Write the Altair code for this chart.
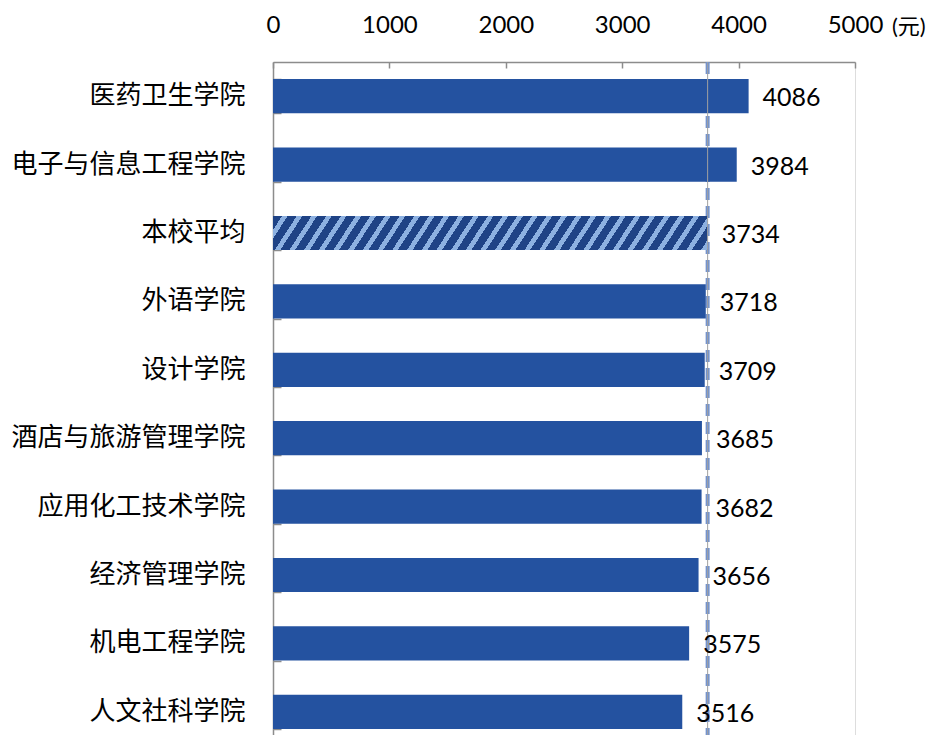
import altair as alt
import pandas as pd

categories = ["医药卫生学院", "电子与信息工程学院", "本校平均", "外语学院", "设计学院",
              "酒店与旅游管理学院", "应用化工技术学院", "经济管理学院", "机电工程学院", "人文社科学院"]
values = [4086, 3984, 3734, 3718, 3709, 3685, 3682, 3656, 3575, 3516]
average_label = "本校平均"
average_value = 3734
x_ticks = [0, 1000, 2000, 3000, 4000, 5000]
x_max = 5000
unit_label = "(元)"

W = 582
H_VIS = 673
STEP = 68.4
H_FULL = STEP * len(categories)

BAR = "#2452A0"
HATCH_DARK = "#1F4386"
HATCH_LIGHT = "#8DB1E1"
AXIS_GREY = "#8C8C8C"
FONT_NUM = "Lato, 'Noto Sans CJK SC', sans-serif"
FONT_CJK = "'Noto Sans CJK SC', sans-serif"

df = pd.DataFrame({"cat": categories, "value": values})
df["is_avg"] = df["cat"] == average_label

x_scale = alt.Scale(domain=[0, x_max], range=[0, W], nice=False)
y_scale = alt.Scale(domain=categories, range=[0, H_FULL], paddingInner=0.5, paddingOuter=0.25)

# diagonal hatch gradient for the average bar
bw = average_value / x_max * W
bh = STEP * 0.5
s = 0.65          # slant
P = 14.7          # stripe period, px
fd = 0.62         # dark fraction
b = s * bh / bw
c = 1.06
L = bw * c * (1 + b * b)
stops = []
k = 0
while k * P / L < 1:
    st = k * P / L
    m = min(st + fd * P / L, 1.0)
    e = min(st + P / L, 1.0)
    stops += [alt.GradientStop(offset=st, color=HATCH_DARK),
              alt.GradientStop(offset=m, color=HATCH_DARK),
              alt.GradientStop(offset=m, color=HATCH_LIGHT),
              alt.GradientStop(offset=e, color=HATCH_LIGHT)]
    k += 1
hatch = alt.LinearGradient(gradient="linear", stops=stops, x1=0, y1=0, x2=c, y2=c * b)

base = alt.Chart(df)

avg_df = pd.DataFrame({"v": [average_value]})
dashed = alt.Chart(avg_df).mark_rule(strokeDash=[12, 6], strokeWidth=4, color="#7393CE").encode(
    x=alt.X("v:Q", scale=x_scale, axis=None),
    y=alt.value(0), y2=alt.value(H_VIS))

bars = base.transform_filter("!datum.is_avg").mark_bar(color=BAR).encode(
    x=alt.X("value:Q", scale=x_scale,
            axis=alt.Axis(orient="top", values=x_ticks, format="d", title=None, grid=False,
                          ticks=False, tickSize=0, labelFont=FONT_NUM, labelFontSize=24,
                          labelColor="#000000", labelPadding=25, domainColor=AXIS_GREY,
                          domainWidth=1.5, labelFlush=False)),
    y=alt.Y("cat:N", scale=y_scale, sort=categories,
            axis=alt.Axis(orient="left", title=None, ticks=False, tickSize=0, grid=False,
                          labelFont=FONT_CJK, labelFontSize=26, labelColor="#000000",
                          labelPadding=28, labelLimit=0, domainColor=AXIS_GREY, domainWidth=1.5)))

hatched = base.transform_filter("datum.is_avg").mark_bar(fill=hatch).encode(
    x=alt.X("value:Q", scale=x_scale, axis=None),
    y=alt.Y("cat:N", scale=y_scale, sort=categories, axis=None))

thin = alt.Chart(avg_df).mark_rule(strokeWidth=1, color="#A0A0A0").encode(
    x=alt.X("v:Q", scale=x_scale,
            axis=alt.Axis(orient="bottom", offset=-H_VIS, values=x_ticks, labels=False, domain=False,
                          ticks=True, tickSize=6, tickColor=AXIS_GREY, tickWidth=1.5,
                          grid=False, title=None)),
    y=alt.value(0), y2=alt.value(H_VIS))

labels = base.mark_text(align="left", baseline="middle", dx=14, dy=2, font=FONT_NUM,
                        fontSize=25, color="#000000").encode(
    x=alt.X("value:Q", scale=x_scale, axis=None),
    y=alt.Y("cat:N", scale=y_scale, sort=categories,
            axis=alt.Axis(orient="right", offset=-W, labels=False, domain=False, ticks=True,
                          tickSize=8, tickColor=AXIS_GREY, tickWidth=1.5, tickBand="extent",
                          grid=False, title=None)),
    text=alt.Text("value:Q", format="d"))

unit = alt.Chart(pd.DataFrame({"x": [x_max], "t": [unit_label]})).mark_text(
    align="left", baseline="alphabetic", dx=37, font=FONT_NUM, fontSize=22, color="#000000").encode(
    x=alt.X("x:Q", scale=x_scale, axis=None),
    y=alt.value(-28),
    text="t:N")

chart = alt.layer(dashed, bars, hatched, thin, labels, unit).resolve_axis(
    x="independent", y="independent"
).properties(
    width=W, height=H_VIS,
    padding={"left": 265, "top": 54, "right": 76, "bottom": 0},
    autosize=alt.AutoSizeParams(type="none"),
).configure_view(stroke=None).configure(background="#ffffff")

chart.save("out.html", embed_options={"renderer": "svg", "actions": False})
